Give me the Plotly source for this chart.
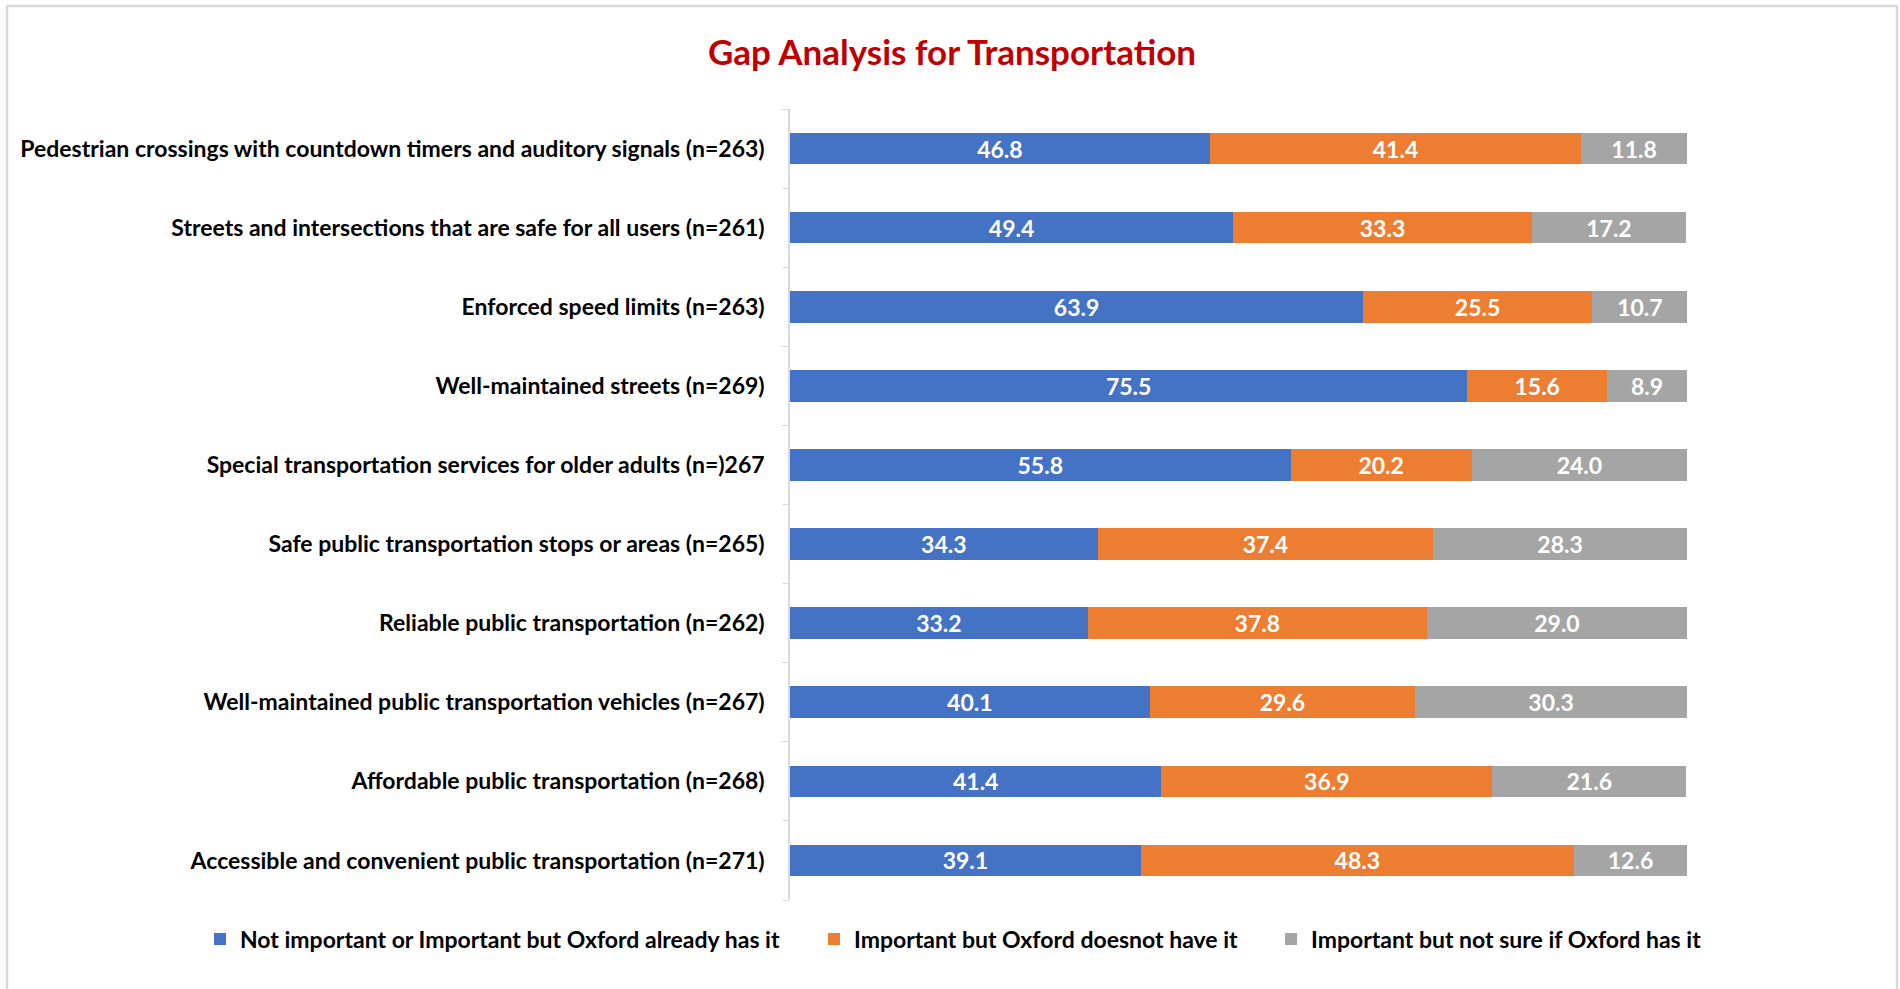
import plotly.graph_objects as go

categories = [
    "Pedestrian crossings with countdown timers and auditory signals (n=263)",
    "Streets and intersections that are safe for all users (n=261)",
    "Enforced speed limits (n=263)",
    "Well-maintained streets (n=269)",
    "Special transportation services for older adults (n=)267",
    "Safe public transportation stops or areas (n=265)",
    "Reliable public transportation (n=262)",
    "Well-maintained public transportation vehicles (n=267)",
    "Affordable public transportation (n=268)",
    "Accessible and convenient public transportation (n=271)",
]
series_names = [
    "Not important or Important but Oxford already has it",
    "Important but Oxford doesnot have it",
    "Important but not sure if Oxford has it",
]
not_important_or_has = [46.8, 49.4, 63.9, 75.5, 55.8, 34.3, 33.2, 40.1, 41.4, 39.1]
important_not_have = [41.4, 33.3, 25.5, 15.6, 20.2, 37.4, 37.8, 29.6, 36.9, 48.3]
important_not_sure = [11.8, 17.2, 10.7, 8.9, 24.0, 28.3, 29.0, 30.3, 21.6, 12.6]
colors = ["#4472C4", "#ED7D31", "#A5A5A5"]

FONT = "Lato, 'Open Sans', sans-serif"

W, H = 1900, 989
L, R, T, B = 790, 1900 - 1687, 109, 989 - 900
pw, ph = W - L - R, H - T - B

def px_x(x):
    return (x - L) / pw

def px_y(y):
    return (H - B - y) / ph

legend_ids = ["legend", "legend2", "legend3"]
legend_symbol_x = [222, 836, 1293]

fig = go.Figure()
for name, vals, col, lid in zip(series_names,
                                [not_important_or_has, important_not_have, important_not_sure],
                                colors, legend_ids):
    fig.add_trace(go.Bar(
        y=categories, x=vals, name=f"<b>{name}</b>", orientation="h",
        marker=dict(color=col, line=dict(width=0)),
        text=[f"{v:.1f}" for v in vals], textposition="inside",
        insidetextanchor="middle",
        textfont=dict(color="white", size=23, family=FONT),
        texttemplate="<b>%{text}</b>",
        constraintext="none",
        legend=lid,
    ))

legend_common = dict(orientation="h", xanchor="left", yanchor="middle",
                     y=px_y(939), font=dict(size=23, color="#000000", family=FONT),
                     itemwidth=30, bgcolor="rgba(0,0,0,0)")

fig.update_layout(
    width=W, height=H,
    barmode="stack", bargap=0.6,
    margin=dict(l=L, r=R, t=T, b=B, autoexpand=False),
    paper_bgcolor="white", plot_bgcolor="white",
    font=dict(family=FONT, color="#000000"),
    title=dict(text="<b>Gap Analysis for Transportation</b>",
               x=952 / W, xanchor="center", y=1 - 53 / H, yanchor="middle",
               font=dict(size=35, color="#C00000", family=FONT)),
    xaxis=dict(range=[0, 100], visible=False, fixedrange=True),
    yaxis=dict(autorange="reversed", type="category", automargin=False,
               showline=True, linecolor="#D9D9D9", linewidth=1.5,
               ticks="outside", ticklen=6, tickcolor="#D9D9D9", tickson="boundaries",
               showgrid=False, ticklabelstandoff=19,
               tickvals=categories, ticktext=[f"<b>{c}</b>" for c in categories],
               tickfont=dict(size=23, color="#000000", family=FONT)),
    showlegend=True,
    legend=dict(legend_common, x=px_x(legend_symbol_x[0] - 22)),
    legend2=dict(legend_common, x=px_x(legend_symbol_x[1] - 22)),
    legend3=dict(legend_common, x=px_x(legend_symbol_x[2] - 22)),
    shapes=[dict(type="rect", xref="paper", yref="paper",
                 x0=px_x(7), x1=px_x(1897), y0=px_y(1000), y1=px_y(6),
                 line=dict(color="#D9D9D9", width=2.5), fillcolor="rgba(0,0,0,0)",
                 layer="below")],
)

fig.write_html("out.html", config={"displayModeBar": False},
               post_script="document.body.style.margin='0';document.body.style.overflow='hidden';")
